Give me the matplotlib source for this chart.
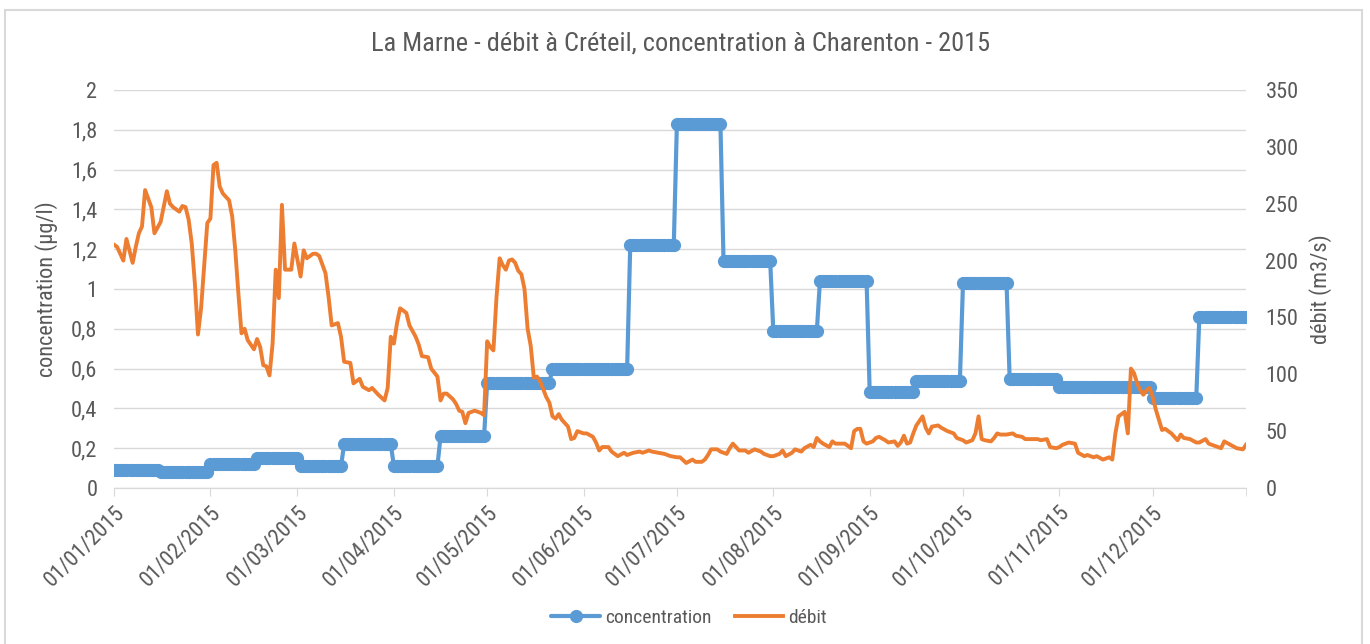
import matplotlib
matplotlib.use('Agg')
import matplotlib.pyplot as plt
import matplotlib.dates as mdates
from matplotlib.patches import Rectangle
from matplotlib.ticker import FuncFormatter
import pandas as pd

plt.rcParams['font.family'] = ['Liberation Sans Narrow', 'Arial Narrow', 'Roboto Condensed',
                               'PT Sans Narrow', 'Archivo Narrow', 'Liberation Sans', 'DejaVu Sans']

# concentration : valeur retenue a partir de chaque date de prelevement
conc_debut = ['2015-01-01', '2015-01-16', '2015-02-01', '2015-02-16', '2015-03-02',
              '2015-03-16', '2015-04-01', '2015-04-16', '2015-05-01', '2015-05-22',
              '2015-06-16', '2015-07-01', '2015-07-16', '2015-08-01', '2015-08-16',
              '2015-09-01', '2015-09-16', '2015-10-01', '2015-10-16', '2015-11-01',
              '2015-12-01', '2015-12-16']
conc_niveau = [0.09, 0.08, 0.12, 0.15, 0.11, 0.22, 0.11, 0.26, 0.53, 0.60,
               1.22, 1.83, 1.14, 0.79, 1.04, 0.48, 0.54, 1.03, 0.55, 0.51,
               0.45, 0.86]

# debit (m3/s), jour = nombre de jours depuis le 01/01/2015
debit_jour = [0, 1, 3, 4, 6, 7, 8, 9, 10, 12, 13, 15, 17, 18, 19, 21, 22, 23, 24, 25, 26, 27, 28, 29, 30,
              31, 32, 33, 34, 35, 37, 38, 39, 40, 41, 42, 43, 45, 46, 47, 48, 49, 50, 51, 52, 53, 54, 55, 57, 58,
              60, 61, 62, 64, 65, 66, 68, 69, 70, 72, 73, 74, 76, 77, 79, 80, 82, 83, 85, 87, 88,
              89, 90, 91, 92, 94, 95, 97, 98, 99, 101, 102, 104, 105, 106, 107, 109, 110, 111, 112, 113, 114, 116, 118, 119,
              120, 121, 122, 123, 124, 125, 126, 127, 128, 129, 130, 131, 132, 133, 134, 135, 136, 137, 139, 140, 141, 142, 143, 144, 146, 147, 148, 149,
              151, 152, 154, 155, 156, 157, 159, 160, 162, 164, 165, 167, 169, 170, 172, 173, 175, 177, 179,
              181, 182, 184, 186, 187, 189, 190, 191, 192, 194, 195, 197, 198, 199, 200, 201, 203, 204, 206, 208, 209, 211,
              212, 214, 215, 216, 218, 219, 221, 222, 224, 225, 226, 227, 228, 230, 231, 232, 233, 235, 237, 238, 239, 240, 241, 242,
              244, 245, 246, 248, 249, 251, 252, 253, 254, 255, 256, 257, 258, 260, 261, 262, 263, 265, 266, 268, 270, 271,
              273, 274, 276, 277, 278, 279, 280, 282, 283, 284, 285, 287, 289, 290, 292, 293, 295, 297, 298, 300, 301, 303,
              304, 305, 307, 309, 310, 312, 313, 315, 316, 318, 320, 321, 322, 323, 325, 326, 327, 328, 329, 330, 331, 332, 333,
              334, 335, 337, 338, 340, 342, 343, 344, 346, 348, 349, 351, 352, 354, 356, 357, 359, 361, 363, 364]
debit = [214, 212, 200, 219, 198, 212, 224, 230, 262, 247, 224, 234, 261, 250, 247, 243, 248, 247, 236, 215, 180, 135, 158, 195, 233,
         237, 284, 286, 265, 259, 253, 239, 209, 171, 136, 140, 130, 122, 131, 124, 108, 107, 99, 127, 192, 167, 249, 192, 192, 215,
         186, 209, 202, 206, 206, 204, 189, 168, 143, 145, 133, 111, 110, 92, 96, 89, 86, 88, 82, 77, 88,
         133, 127, 145, 158, 154, 143, 133, 126, 116, 115, 105, 98, 77, 83, 83, 78, 74, 68, 67, 57, 66, 68, 66, 64,
         129, 124, 121, 168, 202, 196, 192, 200, 201, 198, 191, 188, 175, 140, 125, 97, 98, 94, 80, 75, 63, 61, 65, 60, 54, 43, 44, 50,
         48, 48, 45, 40, 33, 36, 36, 32, 28, 31, 29, 31, 32, 31, 33, 32, 31, 30, 28,
         27, 27, 22, 25, 23, 23, 25, 29, 34, 34, 32, 30, 35, 39, 36, 33, 33, 31, 34, 32, 30, 28,
         28, 30, 33, 28, 31, 34, 32, 35, 38, 36, 44, 41, 39, 36, 41, 39, 39, 39, 35, 50, 52, 52, 41, 39,
         41, 44, 45, 42, 40, 41, 37, 40, 46, 39, 40, 48, 55, 63, 53, 48, 54, 55, 53, 50, 48, 44,
         42, 40, 42, 48, 63, 43, 42, 41, 44, 48, 47, 47, 48, 46, 45, 43, 43, 43, 42, 43, 36, 35,
         36, 38, 40, 39, 31, 28, 29, 27, 28, 25, 27, 25, 48, 63, 67, 48, 105, 101, 92, 86, 82, 86, 88,
         80, 69, 51, 52, 48, 42, 47, 44, 43, 40, 40, 43, 39, 37, 35, 41, 38, 35, 34, 38]

mois = ['2015-%02d-01' % m for m in range(1, 13)]

bleu = '#5B9BD5'
orange = '#ED7D31'
gris_texte = '#595959'
gris_grille = '#D9D9D9'

jours = pd.date_range('2015-01-01', '2015-12-31', freq='D')
conc = pd.Series(conc_niveau, index=pd.to_datetime(conc_debut)).reindex(jours, method='ffill')
debit_dates = pd.Timestamp('2015-01-01') + pd.to_timedelta(debit_jour, unit='D')

fig = plt.figure(figsize=(13.7, 6.44), dpi=100)
ax = fig.add_axes([114 / 1370, 1 - 488 / 644, (1246 - 114) / 1370, (488 - 90) / 644])
ax2 = ax.twinx()

l1, = ax.plot(conc.index, conc.values, color=bleu, lw=3, marker='o', ms=8.5,
              mfc=bleu, mec=bleu, solid_capstyle='round', label='concentration')
l2, = ax2.plot(debit_dates, debit, color=orange, lw=2.8, solid_joinstyle='round',
               label='débit')

ax.set_xlim(pd.Timestamp('2015-01-01'), pd.Timestamp('2015-12-31'))
ax.set_ylim(0, 2)
ax2.set_ylim(0, 350)
ax.set_yticks([i * 0.2 for i in range(11)])
ax2.set_yticks(range(0, 351, 50))
ax.yaxis.set_major_formatter(FuncFormatter(lambda v, p: ('%g' % round(v, 1)).replace('.', ',')))

ax.set_xticks(pd.to_datetime(mois))
ax.set_xticks([pd.Timestamp('2015-12-31')], minor=True)
ax.xaxis.set_major_formatter(mdates.DateFormatter('%d/%m/%Y'))
for lab in ax.get_xticklabels():
    lab.set_rotation(45)
    lab.set_ha('right')
    lab.set_rotation_mode('anchor')

ax.grid(axis='y', color=gris_grille, lw=1)
ax.set_axisbelow(True)
for a in (ax, ax2):
    for s in ('top', 'left', 'right'):
        a.spines[s].set_visible(False)
    a.spines['bottom'].set_color(gris_grille)
    a.tick_params(axis='y', length=0, labelsize=16, labelcolor=gris_texte)
ax.tick_params(axis='y', pad=12)
ax2.tick_params(axis='y', pad=14)
ax.tick_params(axis='x', which='both', length=6, color=gris_grille, labelsize=16,
               labelcolor=gris_texte, pad=4)

ax.set_ylabel('concentration (µg/l)', fontsize=16, color=gris_texte)
ax2.set_ylabel('débit (m3/s)', fontsize=16, color=gris_texte)
ax.yaxis.set_label_coords(-0.0495, 0.5)
ax2.yaxis.set_label_coords(1.0557, 0.5)

fig.text(0.497, 1 - 44 / 644, 'La Marne - débit à Créteil, concentration à Charenton - 2015',
         ha='center', va='center', fontsize=19, color=gris_texte)

fig.legend(handles=[l1, l2], loc='center', bbox_to_anchor=(0.503, 1 - 618 / 644), ncol=2,
           frameon=False, fontsize=14, handlelength=2.5, columnspacing=1.2,
           handletextpad=0.25, labelcolor=gris_texte)

fig.patches.append(Rectangle((5 / 1370, -0.01), 1357 / 1370, 1 - 10 / 644 + 0.01,
                             transform=fig.transFigure, fill=False, ec=gris_grille, lw=1.5))

fig.savefig('out.png', dpi=100)
